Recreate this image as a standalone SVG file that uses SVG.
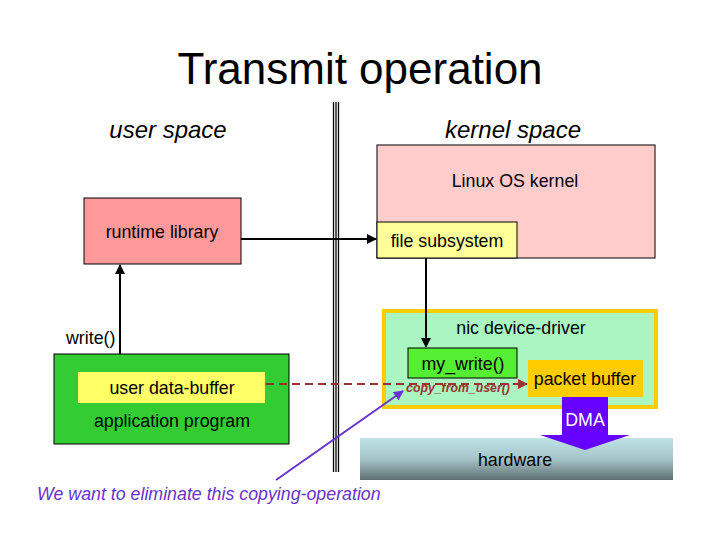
<svg xmlns="http://www.w3.org/2000/svg" width="720" height="540" viewBox="0 0 720 540">
<defs>
<linearGradient id="hw" x1="0" y1="0" x2="0" y2="1">
<stop offset="0" stop-color="#bfe3e6"/>
<stop offset="0.5" stop-color="#a4c4c8"/>
<stop offset="1" stop-color="#5f6f70"/>
</linearGradient>
<marker id="ab" viewBox="0 0 10 10" refX="9" refY="5" markerWidth="5" markerHeight="5" orient="auto"><path d="M0,0 L10,5 L0,10 z" fill="#000"/></marker>
<marker id="ar" viewBox="0 0 10 10" refX="9" refY="5" markerWidth="5" markerHeight="5" orient="auto"><path d="M0,0 L10,5 L0,10 z" fill="#993333"/></marker>
<marker id="ap" viewBox="0 0 10 10" refX="9" refY="5" markerWidth="5" markerHeight="5" orient="auto"><path d="M0,0 L10,5 L0,10 z" fill="#6633cc"/></marker>
</defs>
<style>
text{font-family:"Liberation Sans",Arial,sans-serif;fill:#000}
.box{stroke:#000;stroke-width:1}
.lbl{font-size:17.8px;text-anchor:middle}
.sp{font-size:24px;font-style:italic;text-anchor:middle}
</style>
<rect width="720" height="540" fill="#fff"/>
<text x="360" y="84" font-size="44" text-anchor="middle">Transmit operation</text>
<text class="sp" x="168" y="138">user space</text>
<text class="sp" x="513" y="138">kernel space</text>
<g id="divider" stroke="#000" stroke-width="1.3">
<line x1="333.5" y1="102" x2="333.5" y2="472"/>
<line x1="336" y1="102" x2="336" y2="472"/>
<line x1="338.5" y1="102" x2="338.5" y2="472"/>
</g>
<g id="kernel"><rect class="box" x="377" y="145" width="278" height="113" fill="#ffcccc"/><text class="lbl" x="515" y="187">Linux OS kernel</text></g>
<g id="filesub"><rect class="box" x="377" y="222" width="140" height="36" fill="#ffff99"/><text class="lbl" x="447" y="247">file subsystem</text></g>
<g id="runtime"><rect class="box" x="84" y="198" width="157" height="66" fill="#ff9999"/><text class="lbl" x="162" y="238">runtime library</text></g>
<g id="app"><rect class="box" x="54" y="354" width="235" height="90" fill="#33cc33"/>
<text class="lbl" x="172" y="427">application program</text></g>
<g id="userbuf"><rect x="78" y="372" width="187" height="31" fill="#ffff66"/><text class="lbl" x="172" y="394">user data-buffer</text></g>
<g id="nic"><rect x="384" y="311" width="272" height="96" fill="#aaf5c0" stroke="#ffcc00" stroke-width="4"/><text class="lbl" x="521" y="334">nic device-driver</text></g>
<g id="mywrite"><rect class="box" x="408" y="348" width="109" height="30" fill="#55ee33"/><text class="lbl" x="463" y="370">my_write()</text></g>
<g id="pktbuf"><rect x="528" y="360" width="115" height="37" fill="#ffcc00"/><text class="lbl" x="585" y="385">packet buffer</text></g>
<g id="hardware"><rect x="360" y="438" width="313" height="42" fill="url(#hw)"/><text class="lbl" x="515" y="466">hardware</text></g>
<g id="dma"><path d="M562,397 H608 V435 H630 L585,450 L540,435 H562 Z" fill="#6600ff"/><text class="lbl" x="585" y="426" style="fill:#fff">DMA</text></g>
<text x="66" y="344" font-size="17.8">write()</text>
<text x="458" y="392" font-size="12.3" font-style="italic" font-weight="bold" text-anchor="middle" style="fill:#993333">copy_from_user()</text>
<text x="37" y="500" font-size="17.8" font-style="italic" style="fill:#6633cc">We want to eliminate this copying-operation</text>
<g id="connectors" fill="none">
<line x1="241" y1="239" x2="376" y2="239" stroke="#000" stroke-width="2" marker-end="url(#ab)"/>
<line x1="120" y1="354" x2="120" y2="265" stroke="#000" stroke-width="2" marker-end="url(#ab)"/>
<line x1="426" y1="258" x2="426" y2="347" stroke="#000" stroke-width="2" marker-end="url(#ab)"/>
<line x1="266" y1="384" x2="527" y2="384" stroke="#993333" stroke-width="2" stroke-dasharray="8,5" marker-end="url(#ar)"/>
<line x1="276" y1="480" x2="403" y2="391" stroke="#6633cc" stroke-width="2" marker-end="url(#ap)"/>
</g>
</svg>
